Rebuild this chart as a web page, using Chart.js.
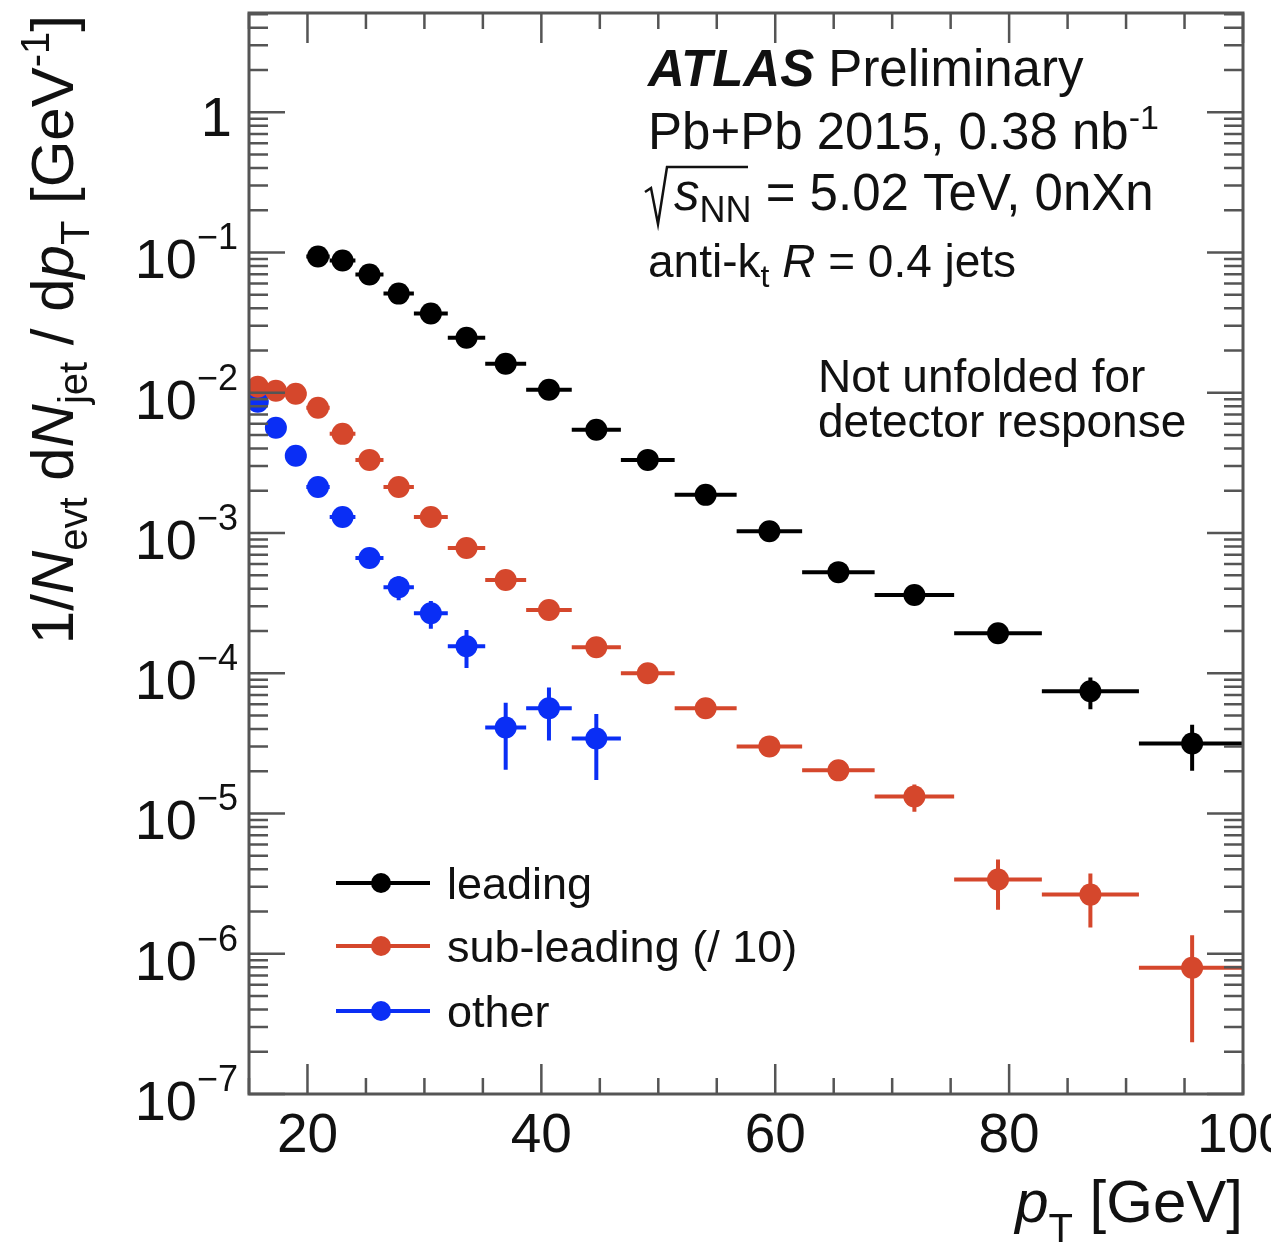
<!DOCTYPE html>
<html>
<head>
<meta charset="utf-8">
<script src="https://cdn.jsdelivr.net/npm/chart.js@4.4.1/dist/chart.umd.min.js"></script>
<style>
  html, body { margin: 0; padding: 0; background: #fff; }
  canvas { display: block; }
</style>
</head>
<body>
<canvas id="graficoJatos" width="1271" height="1246"></canvas>
<script>
// pT bin edges [GeV]
const binEdges = [15, 16.5, 18.1, 19.9, 21.9, 24.1, 26.5, 29.1, 32.0, 35.2, 38.7,
                  42.6, 46.8, 51.4, 56.7, 62.3, 68.5, 75.3, 82.8, 91.1, 100.2];

// 1/N_evt dN_jet/dpT per bin (null = no point in that bin)
const leading = [null, null, null, 0.0935, 0.0877, 0.0697, 0.0509, 0.0367, 0.0247, 0.0161,
                 0.0105, 0.00545, 0.00332, 0.00187, 0.00103, 0.000526, 0.000361, 0.000193,
                 0.0000743, 0.0000316];
const leadingErr = [null, null, null, 0.0006, 0.0006, 0.0005, 0.0004, 0.0003, 0.0002, 0.00015,
                    0.0001, 0.00006, 0.00004, 0.00003, 0.00002, 0.00001, 0.00001, 0.00001,
                    0.000019, 0.0000114];

const subLeading = [0.01104, 0.01033, 0.00984, 0.00782, 0.00509, 0.00332, 0.00213, 0.00130,
                    0.000781, 0.000462, 0.000282, 0.000153, 0.0001, 0.0000562, 0.0000301,
                    0.0000203, 0.0000132, 0.00000338, 0.00000264, 0.000000794];
const subLeadingErr = [0.00005, 0.00005, 0.00005, 0.00004, 0.00003, 0.00002, 0.00001, 0.00001,
                       0.000005, 0.000004, 0.000003, 0.000002, 0.000002, 0.000002, 0.000002,
                       0.000002, 0.0000029, 0.00000132, 0.0000011, 0.00000056];

const other = [0.00863, 0.00562, 0.00355, 0.00213, 0.00130, 0.000663, 0.000411, 0.000268,
               0.000156, 0.0000411, 0.0000562, 0.0000343, null, null, null, null, null, null,
               null, null];
const otherErr = [0.00005, 0.00004, 0.00003, 0.00003, 0.00002, 0.00006, 0.00008, 0.00006,
                  0.000047, 0.0000206, 0.000023, 0.000017, null, null, null, null, null, null,
                  null, null];

const xTickLabels = [20, 40, 60, 80, 100];
const yTickPowers = [0, -1, -2, -3, -4, -5, -6, -7];

const COR_LEADING = '#000000';
const COR_SUB = '#d5472c';
const COR_OTHER = '#0a2ef5';
const COR_FRAME = '#555555';
const FONTE = '"Liberation Sans", Arial, Helvetica, sans-serif';

function montaPontos(valores, erros) {
    const pts = [];
    valores.forEach((v, i) => {
        if (v === null) return;
        pts.push({
            x: (binEdges[i] + binEdges[i + 1]) / 2,
            y: v,
            lo: binEdges[i],
            hi: binEdges[i + 1],
            err: erros[i] || 0
        });
    });
    return pts;
}

function fonte(p) {
    return (p.style || '') + ' ' + p.size + 'px ' + FONTE;
}

// writes a row of pieces (normal / italic / sub / sup) one after the other
function escreve(ctx, pecas, x, y, align) {
    let total = 0;
    pecas.forEach(p => {
        ctx.font = fonte(p);
        p.w = ctx.measureText(p.t).width;
        total += p.w;
    });
    let cx = align === 'right' ? x - total : x;
    ctx.textAlign = 'left';
    ctx.textBaseline = 'alphabetic';
    pecas.forEach(p => {
        ctx.font = fonte(p);
        ctx.fillText(p.t, cx, y + (p.dy || 0));
        cx += p.w;
    });
    return total;
}

const barrasErro = {
    id: 'barrasErro',
    beforeDatasetsDraw(chart) {
        const ctx = chart.ctx;
        const xs = chart.scales.x, ys = chart.scales.y;
        const area = chart.chartArea;
        ctx.save();
        ctx.beginPath();
        ctx.rect(area.left, area.top, area.right - area.left, area.bottom - area.top);
        ctx.clip();
        ctx.lineWidth = 4;
        chart.data.datasets.forEach(ds => {
            ctx.strokeStyle = ds.backgroundColor;
            ctx.beginPath();
            ds.data.forEach(p => {
                const px = xs.getPixelForValue(p.x);
                const py = ys.getPixelForValue(p.y);
                ctx.moveTo(xs.getPixelForValue(p.lo), py);
                ctx.lineTo(xs.getPixelForValue(p.hi), py);
                if (p.err > 0) {
                    const cima = ys.getPixelForValue(p.y + p.err);
                    const baixo = p.y - p.err > 0 ? ys.getPixelForValue(p.y - p.err) : area.bottom;
                    ctx.moveTo(px, cima);
                    ctx.lineTo(px, baixo);
                }
            });
            ctx.stroke();
        });
        ctx.restore();
    }
};

const moldura = {
    id: 'moldura',
    afterDatasetsDraw(chart) {
        const ctx = chart.ctx;
        const xs = chart.scales.x, ys = chart.scales.y;
        const a = chart.chartArea;
        ctx.save();

        // ticks on all four sides
        ctx.strokeStyle = COR_FRAME;
        ctx.lineWidth = 2.5;
        ctx.beginPath();
        for (let v = 15; v <= 100; v += 5) {
            const px = xs.getPixelForValue(v);
            const len = v % 20 === 0 ? 30 : 16;
            ctx.moveTo(px, a.bottom); ctx.lineTo(px, a.bottom - len);
            ctx.moveTo(px, a.top); ctx.lineTo(px, a.top + len);
        }
        for (let e = -7; e <= 0; e++) {
            for (let k = 1; k <= 9; k++) {
                const v = k * Math.pow(10, e);
                if (v > ys.max) break;
                const py = ys.getPixelForValue(v);
                const len = k === 1 ? 36 : 19;
                ctx.moveTo(a.left, py); ctx.lineTo(a.left + len, py);
                ctx.moveTo(a.right, py); ctx.lineTo(a.right - len, py);
            }
        }
        ctx.stroke();

        ctx.lineWidth = 3;
        ctx.strokeRect(a.left, a.top, a.right - a.left, a.bottom - a.top);

        ctx.fillStyle = '#111';

        // x tick labels
        ctx.font = '55px ' + FONTE;
        ctx.textAlign = 'center';
        ctx.textBaseline = 'alphabetic';
        xTickLabels.forEach(v => {
            ctx.fillText(String(v), xs.getPixelForValue(v), 1152);
        });

        // y tick labels 10^n
        yTickPowers.forEach(n => {
            const py = ys.getPixelForValue(Math.pow(10, n));
            if (n === 0) {
                escreve(ctx, [{ t: '1', size: 56 }], 232, py + 24, 'right');
            } else {
                escreve(ctx, [{ t: '10', size: 56 }, { t: '\u2212' + (-n), size: 36, dy: -29 }],
                        238, py + 26, 'right');
            }
        });

        // axis titles
        escreve(ctx, [
            { t: 'p', size: 60, style: 'italic' },
            { t: 'T', size: 40, dy: 20 },
            { t: ' [GeV]', size: 60 }
        ], 1243, 1222, 'right');

        ctx.save();
        ctx.translate(73, 15);
        ctx.rotate(-Math.PI / 2);
        escreve(ctx, [
            { t: '1/', size: 60 },
            { t: 'N', size: 60, style: 'italic' },
            { t: 'evt', size: 40, dy: 14 },
            { t: ' d', size: 60 },
            { t: 'N', size: 60, style: 'italic' },
            { t: 'jet', size: 40, dy: 14 },
            { t: ' / d', size: 60 },
            { t: 'p', size: 60, style: 'italic' },
            { t: 'T', size: 40, dy: 16 },
            { t: ' [GeV', size: 60 },
            { t: '-1', size: 40, dy: -24 },
            { t: ']', size: 60 }
        ], 0, 0, 'right');
        ctx.restore();

        // labels
        escreve(ctx, [
            { t: 'ATLAS', size: 51, style: 'italic bold' },
            { t: ' Preliminary', size: 51 }
        ], 648, 86);
        escreve(ctx, [
            { t: 'Pb+Pb 2015, 0.38 nb', size: 51 },
            { t: '-1', size: 34, dy: -20 }
        ], 648, 149);

        ctx.strokeStyle = '#111';
        ctx.lineWidth = 2.5;
        ctx.beginPath();
        ctx.moveTo(645, 192);
        ctx.lineTo(651, 188);
        ctx.lineTo(658, 224);
        ctx.lineTo(667, 167);
        ctx.lineTo(748, 167);
        ctx.stroke();
        escreve(ctx, [
            { t: 's', size: 51, style: 'italic' },
            { t: 'NN', size: 36, dy: 12 },
            { t: ' = 5.02 TeV, 0nXn', size: 51 }
        ], 674, 210);

        escreve(ctx, [
            { t: 'anti-k', size: 46 },
            { t: 't', size: 32, dy: 10 },
            { t: ' ', size: 46 },
            { t: 'R', size: 46, style: 'italic' },
            { t: ' = 0.4 jets', size: 46 }
        ], 648, 277);

        escreve(ctx, [{ t: 'Not unfolded for', size: 46 }], 818, 392);
        escreve(ctx, [{ t: 'detector response', size: 46 }], 818, 437);

        // legend
        const linhasLegenda = [883, 946, 1011];
        chart.data.datasets.forEach((ds, i) => {
            const y = linhasLegenda[i];
            ctx.strokeStyle = ds.backgroundColor;
            ctx.lineWidth = 4;
            ctx.beginPath();
            ctx.moveTo(336, y);
            ctx.lineTo(430, y);
            ctx.stroke();
            ctx.fillStyle = ds.backgroundColor;
            ctx.beginPath();
            ctx.arc(381, y, 10, 0, Math.PI * 2);
            ctx.fill();
            ctx.fillStyle = '#111';
            escreve(ctx, [{ t: ds.label, size: 45 }], 447, y + 16);
        });

        ctx.restore();
    }
};

const dadosJatos = {
    datasets: [
        { label: 'leading', data: montaPontos(leading, leadingErr), backgroundColor: COR_LEADING },
        { label: 'sub-leading (/ 10)', data: montaPontos(subLeading, subLeadingErr), backgroundColor: COR_SUB },
        { label: 'other', data: montaPontos(other, otherErr), backgroundColor: COR_OTHER }
    ]
};

const configJatos = {
    type: 'scatter',
    data: dadosJatos,
    options: {
        responsive: false,
        animation: false,
        devicePixelRatio: 1,
        layout: { padding: { left: 249, top: 13, right: 28, bottom: 152 } },
        elements: { point: { radius: 11, borderWidth: 0, hoverRadius: 11 } },
        scales: {
            x: { type: 'linear', min: 15, max: 100, display: false },
            y: { type: 'logarithmic', min: 1e-7, max: 5.1, display: false }
        },
        plugins: {
            legend: { display: false },
            tooltip: { enabled: false }
        }
    },
    plugins: [barrasErro, moldura]
};

const GRAF_JATOS = new Chart(document.getElementById('graficoJatos'), configJatos);
</script>
</body>
</html>
